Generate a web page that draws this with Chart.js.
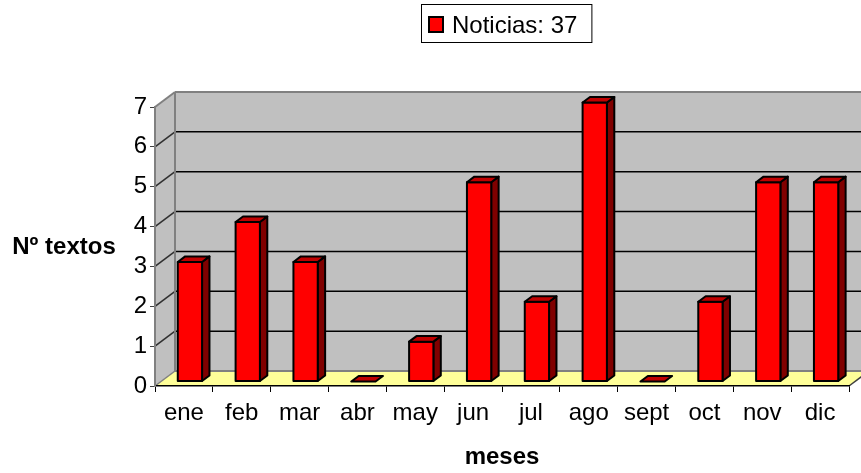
<!DOCTYPE html>
<html>
<head>
<meta charset="utf-8">
<script src="https://cdn.jsdelivr.net/npm/chart.js@4.4.1/dist/chart.umd.min.js"></script>
<style>
  body { margin: 0; background: #fff; }
  #wrap { width: 861px; height: 473px; }
</style>
</head>
<body>
<div id="wrap"><canvas id="chart" width="861" height="473"></canvas></div>
<script>
const months = ['ene', 'feb', 'mar', 'abr', 'may', 'jun', 'jul', 'ago', 'sept', 'oct', 'nov', 'dic'];
const noticias = [3, 4, 3, 0, 1, 5, 2, 7, 0, 2, 5, 5];
const yTicks = [0, 1, 2, 3, 4, 5, 6, 7];
const seriesName = 'Noticias';
const xTitle = 'meses';
const yTitle = 'Nº textos';

// depth of the 3d box, and where the bars sit inside it (0 = front, 1 = back)
const DX = 20, DY = 15;
const BAR_FRONT = 0.3, BAR_BACK = 0.67;
const FONT = '"Liberation Sans", Arial, sans-serif';

Chart.defaults.font.family = FONT;
Chart.defaults.font.size = 24;
Chart.defaults.color = '#000';

function poly(ctx, pts, fill) {
  ctx.beginPath();
  ctx.moveTo(pts[0][0], pts[0][1]);
  for (let i = 1; i < pts.length; i++) ctx.lineTo(pts[i][0], pts[i][1]);
  ctx.closePath();
  if (fill) { ctx.fillStyle = fill; ctx.fill(); }
  ctx.stroke();
}

function line(ctx, x1, y1, x2, y2) {
  ctx.beginPath();
  ctx.moveTo(x1, y1);
  ctx.lineTo(x2, y2);
  ctx.stroke();
}

const walls = {
  id: 'walls',
  beforeDraw(chart) {
    const { ctx, chartArea: a, scales: { y } } = chart;
    const top = y.getPixelForValue(yTicks[yTicks.length - 1]);
    const bottom = y.getPixelForValue(0);
    ctx.save();
    ctx.lineWidth = 0;
    ctx.strokeStyle = 'transparent';
    // side wall + back wall
    poly(ctx, [[a.left, top], [a.left + DX, top - DY], [a.left + DX, bottom - DY], [a.left, bottom]], '#c0c0c0');
    poly(ctx, [[a.left + DX, top - DY], [a.right + DX, top - DY], [a.right + DX, bottom - DY], [a.left + DX, bottom - DY]], '#c0c0c0');
    // floor
    poly(ctx, [[a.left, bottom], [a.left + DX, bottom - DY], [a.right + DX, bottom - DY], [a.right, bottom]], '#ffff99');

    // gridlines
    ctx.lineWidth = 1.5;
    yTicks.forEach(v => {
      if (v === 0 || v === yTicks[yTicks.length - 1]) return;
      const py = y.getPixelForValue(v);
      ctx.strokeStyle = '#000';
      line(ctx, a.left + DX, py - DY, a.right + DX, py - DY);
      ctx.strokeStyle = '#303030';
      line(ctx, a.left, py, a.left + DX, py - DY);
    });

    // wall edges
    ctx.strokeStyle = '#808080';
    ctx.lineWidth = 2;
    line(ctx, a.left, top, a.left + DX, top - DY);
    line(ctx, a.left + DX, top - DY, a.right + DX, top - DY);
    line(ctx, a.left + DX, top - DY, a.left + DX, bottom - DY);
    line(ctx, a.left + DX, bottom - DY, a.right + DX, bottom - DY);
    ctx.lineWidth = 1.5;
    line(ctx, a.left, bottom, a.left + DX, bottom - DY);
    ctx.strokeStyle = '#404040';
    line(ctx, a.right, bottom, a.right + DX, bottom - DY);
    ctx.restore();
  }
};

const bars3d = {
  id: 'bars3d',
  afterDatasetsDraw(chart) {
    const ctx = chart.ctx;
    const fx = DX * BAR_FRONT, fy = DY * BAR_FRONT;
    const bx = DX * (BAR_BACK - BAR_FRONT), by = DY * (BAR_BACK - BAR_FRONT);
    ctx.save();
    ctx.lineWidth = 2;
    ctx.lineJoin = 'round';
    ctx.strokeStyle = '#000';
    chart.getDatasetMeta(0).data.forEach(bar => {
      const l = bar.x - bar.width / 2 + fx, r = bar.x + bar.width / 2 + fx;
      const t = bar.y - fy, b = bar.base - fy;
      if (b - t > 0.5) {
        poly(ctx, [[r, t], [r + bx, t - by], [r + bx, b - by], [r, b]], '#800000');
        poly(ctx, [[l, t], [r, t], [r, b], [l, b]], '#ff0000');
      }
      poly(ctx, [[l, t], [l + bx, t - by], [r + bx, t - by], [r, t]], '#c00000');
    });
    ctx.restore();
  }
};

const labels = {
  id: 'labels',
  afterDraw(chart) {
    const ctx = chart.ctx;
    ctx.save();
    // y title, horizontal
    ctx.font = 'bold 24px ' + FONT;
    ctx.fillStyle = '#000';
    ctx.textAlign = 'center';
    ctx.textBaseline = 'alphabetic';
    ctx.fillText(yTitle, 64, 254);

    // legend box
    const total = noticias.reduce((s, v) => s + v, 0);
    const text = `${seriesName}: ${total}`;
    ctx.font = '24px ' + FONT;
    const tw = ctx.measureText(text).width;
    const bx = 421, by = 4, bw = tw + 46, bh = 39;
    ctx.fillStyle = '#fff';
    ctx.fillRect(bx, by, bw, bh);
    ctx.strokeStyle = '#000';
    ctx.lineWidth = 1;
    ctx.strokeRect(bx + 0.5, by + 0.5, bw - 1, bh - 1);
    ctx.fillStyle = '#ff0000';
    ctx.fillRect(429, 17, 14, 15);
    ctx.lineWidth = 2;
    ctx.strokeRect(429, 17, 14, 15);
    ctx.fillStyle = '#000';
    ctx.textAlign = 'left';
    ctx.fillText(text, 452, 33);
    ctx.restore();
  }
};

new Chart(document.getElementById('chart'), {
  type: 'bar',
  data: {
    labels: months,
    datasets: [{
      label: seriesName,
      data: noticias,
      backgroundColor: 'transparent',
      borderWidth: 0,
      barPercentage: 0.42,
      categoryPercentage: 1
    }]
  },
  options: {
    responsive: false,
    animation: false,
    layout: { padding: { top: 107, right: 12, left: 0, bottom: 0 } },
    plugins: {
      legend: { display: false },
      tooltip: { enabled: false }
    },
    scales: {
      x: {
        grid: { drawOnChartArea: false, tickLength: 6, color: '#000', offset: true },
        border: { color: '#000', width: 1.5 },
        ticks: { padding: 7, maxRotation: 0, autoSkip: false },
        title: { display: true, text: xTitle, font: { weight: 'bold' }, padding: { top: 0, bottom: 1 } },
        afterFit: s => { s.height = 87; }
      },
      y: {
        min: 0,
        max: 7,
        afterBuildTicks: s => { s.ticks = yTicks.map(v => ({ value: v })); },
        ticks: { padding: 3 },
        grid: { drawOnChartArea: false, tickLength: 5, color: '#404040' },
        border: { color: '#808080', width: 2 },
        afterFit: s => { s.width = 155; }
      }
    }
  },
  plugins: [walls, bars3d, labels]
});
</script>
</body>
</html>
